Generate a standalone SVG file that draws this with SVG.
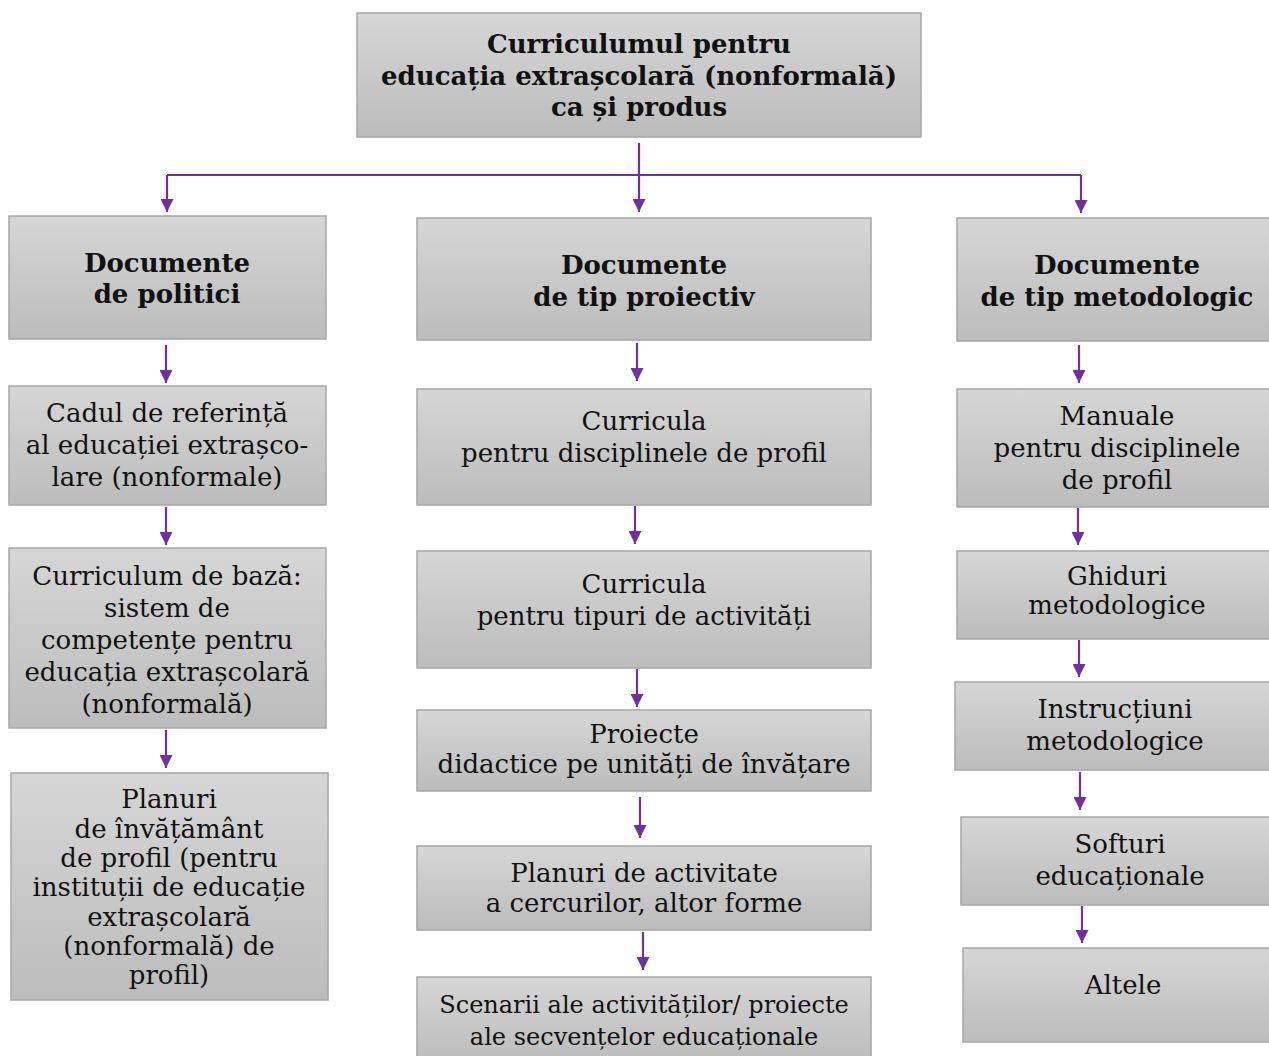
<svg xmlns="http://www.w3.org/2000/svg" width="1269" height="1056" viewBox="0 0 1269 1056">
<style>
.box{fill:url(#g);stroke:#a6a6a6;stroke-width:1.5}
text{font-family:"DejaVu Serif","Liberation Serif",serif;font-size:26px;fill:#111;text-anchor:middle}
.b{font-weight:bold;font-size:26px}
.s{font-size:24px}
.c{stroke:#7030a0;stroke-width:2.2;fill:none}
</style>
<defs>
<linearGradient id="g" x1="0" y1="0" x2="0" y2="1"><stop offset="0" stop-color="#d6d6d6"/><stop offset="1" stop-color="#bcbcbc"/></linearGradient>
<marker id="a" viewBox="0 0 12 12" refX="12" refY="6" markerWidth="13" markerHeight="13" markerUnits="userSpaceOnUse" orient="auto"><path d="M0,0 L12,6 L0,12 Z" fill="#7030a0"/></marker>
</defs>
<g id="connectors">
<path class="c" d="M639,143 V175"/>
<path class="c" d="M167,175 H1081"/>
<path class="c" d="M167,175 V212" marker-end="url(#a)"/>
<path class="c" d="M639,175 V212" marker-end="url(#a)"/>
<path class="c" d="M1081,175 V213" marker-end="url(#a)"/>
<path class="c" d="M166,345 V383" marker-end="url(#a)"/>
<path class="c" d="M166,507 V545" marker-end="url(#a)"/>
<path class="c" d="M166,730 V768" marker-end="url(#a)"/>
<path class="c" d="M637,343 V381" marker-end="url(#a)"/>
<path class="c" d="M635,506 V544" marker-end="url(#a)"/>
<path class="c" d="M637,669 V707" marker-end="url(#a)"/>
<path class="c" d="M640,797 V838" marker-end="url(#a)"/>
<path class="c" d="M643,932 V970" marker-end="url(#a)"/>
<path class="c" d="M1079,345 V383" marker-end="url(#a)"/>
<path class="c" d="M1078,508 V545" marker-end="url(#a)"/>
<path class="c" d="M1079,640 V677" marker-end="url(#a)"/>
<path class="c" d="M1080,772 V810" marker-end="url(#a)"/>
<path class="c" d="M1082,906 V943" marker-end="url(#a)"/>
</g>
<g id="root"><rect class="box" x="357" y="13" width="564" height="124"/>
<text class="b" x="639" y="53">Curriculumul pentru</text>
<text class="b" x="639" y="85">educația extrașcolară (nonformală)</text>
<text class="b" x="639" y="116">ca și produs</text></g>
<g id="politici"><rect class="box" x="9" y="216" width="317" height="123"/>
<text class="b" x="167" y="272">Documente</text>
<text class="b" x="167" y="303">de politici</text></g>
<g id="cadul"><rect class="box" x="9" y="386" width="317" height="119"/>
<text x="167" y="422">Cadul de referință</text>
<text x="167" y="454">al educației extrașco-</text>
<text x="167" y="486">lare (nonformale)</text></g>
<g id="curriculum-baza"><rect class="box" x="9" y="548" width="317" height="180"/>
<text x="167" y="585">Curriculum de bază:</text>
<text x="167" y="617">sistem de</text>
<text x="167" y="649">competențe pentru</text>
<text x="167" y="681">educația extrașcolară</text>
<text x="167" y="713">(nonformală)</text></g>
<g id="planuri-invatamant"><rect class="box" x="11" y="773" width="317" height="227"/>
<text x="169" y="808">Planuri</text>
<text x="169" y="838">de învățământ</text>
<text x="169" y="867">de profil (pentru</text>
<text x="169" y="896">instituții de educație</text>
<text x="169" y="926">extrașcolară</text>
<text x="169" y="955">(nonformală) de</text>
<text x="169" y="984">profil)</text></g>
<g id="proiectiv"><rect class="box" x="417" y="218" width="454" height="122"/>
<text class="b" x="644" y="274">Documente</text>
<text class="b" x="644" y="306">de tip proiectiv</text></g>
<g id="curricula-discipline"><rect class="box" x="417" y="389" width="454" height="116"/>
<text x="644" y="430">Curricula</text>
<text x="644" y="462">pentru disciplinele de profil</text></g>
<g id="curricula-activitati"><rect class="box" x="417" y="551" width="454" height="117"/>
<text x="644" y="593">Curricula</text>
<text x="644" y="625">pentru tipuri de activități</text></g>
<g id="proiecte"><rect class="box" x="417" y="710" width="454" height="81"/>
<text x="644" y="743">Proiecte</text>
<text x="644" y="773">didactice pe unități de învățare</text></g>
<g id="planuri-activitate"><rect class="box" x="417" y="846" width="454" height="84"/>
<text x="644" y="882">Planuri de activitate</text>
<text x="644" y="912">a cercurilor, altor forme</text></g>
<g id="scenarii"><rect class="box" x="417" y="977" width="454" height="85"/>
<text class="s" x="644" y="1013">Scenarii ale activităților/ proiecte</text>
<text class="s" x="644" y="1045">ale secvențelor educaționale</text></g>
<g id="metodologic"><rect class="box" x="957" y="218" width="318" height="123"/>
<text class="b" x="1117" y="274">Documente</text>
<text class="b" x="1117" y="306">de tip metodologic</text></g>
<g id="manuale"><rect class="box" x="957" y="389" width="318" height="118"/>
<text x="1117" y="425">Manuale</text>
<text x="1117" y="457">pentru disciplinele</text>
<text x="1117" y="489">de profil</text></g>
<g id="ghiduri"><rect class="box" x="957" y="551" width="318" height="88"/>
<text x="1117" y="585">Ghiduri</text>
<text x="1117" y="614">metodologice</text></g>
<g id="instructiuni"><rect class="box" x="955" y="682" width="320" height="88"/>
<text x="1115" y="718">Instrucțiuni</text>
<text x="1115" y="750">metodologice</text></g>
<g id="softuri"><rect class="box" x="961" y="817" width="314" height="88"/>
<text x="1120" y="853">Softuri</text>
<text x="1120" y="885">educaționale</text></g>
<g id="altele"><rect class="box" x="963" y="948" width="312" height="94"/>
<text x="1123" y="994">Altele</text></g>
</svg>
